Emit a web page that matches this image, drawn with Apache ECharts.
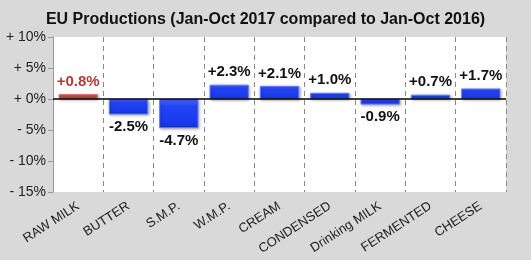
<!DOCTYPE html>
<html>
<head>
<meta charset="utf-8">
<script src="https://cdn.jsdelivr.net/npm/echarts@6/dist/echarts.min.js"></script>
<style>
  html, body { margin: 0; padding: 0; background: #d9d9d9; }
  #chart { width: 531px; height: 260px; }
</style>
</head>
<body>
<div id="chart"></div>
<script>
const categories = ['RAW MILK', 'BUTTER', 'S.M.P.', 'W.M.P.', 'CREAM', 'CONDENSED', 'Drinking MILK', 'FERMENTED', 'CHEESE'];
const changes = [0.8, -2.5, -4.7, 2.3, 2.1, 1.0, -0.9, 0.7, 1.7];
const yTicks = { min: -15, max: 10, step: 5 };

const chart = echarts.init(document.getElementById('chart'));

// blue bevel look, first bar (raw milk) in red
const blueFill = new echarts.graphic.LinearGradient(0, 0, 0, 1, [
  { offset: 0, color: '#4d6cff' },
  { offset: 0.25, color: '#2244f5' },
  { offset: 0.85, color: '#1a38ea' },
  { offset: 1, color: '#1230c8' }
]);
const redFill = new echarts.graphic.LinearGradient(0, 0, 0, 1, [
  { offset: 0, color: '#d46a67' },
  { offset: 1, color: '#a93a37' }
]);

const barData = changes.map((v, i) => ({
  value: v,
  itemStyle: {
    color: i === 0 ? redFill : blueFill,
    borderColor: i === 0 ? '#d77a77' : '#5a78ff',
    borderWidth: 1
  },
  label: {
    position: v >= 0 ? 'top' : 'bottom',
    color: i === 0 ? '#b23a36' : '#111'
  }
}));

const option = {
  backgroundColor: '#d9d9d9',
  textStyle: { fontFamily: 'Liberation Sans, Arial, sans-serif' },
  title: {
    text: 'EU Productions (Jan-Oct 2017 compared to Jan-Oct 2016)',
    left: 'center',
    top: 7,
    textStyle: { fontSize: 16, fontWeight: 'bold', color: '#111' }
  },
  grid: {
    left: 53, right: 25, top: 37, bottom: 68,
    show: true, backgroundColor: '#fff', borderWidth: 0
  },
  xAxis: {
    type: 'category',
    data: categories,
    axisLine: { show: false },
    axisTick: { show: false },
    splitLine: {
      show: true,
      lineStyle: { color: '#888', type: [5, 4], width: 1 }
    },
    axisLabel: {
      rotate: 33,
      interval: 0,
      color: '#222',
      fontSize: 13,
      margin: 13
    }
  },
  yAxis: {
    type: 'value',
    min: yTicks.min,
    max: yTicks.max,
    interval: yTicks.step,
    axisLine: { show: true, lineStyle: { color: '#999' } },
    axisTick: { show: true, inside: false, length: 5, lineStyle: { color: '#999' } },
    splitLine: { show: false },
    axisLabel: {
      color: '#222',
      fontSize: 14,
      margin: 7,
      formatter: v => (v < 0 ? '- ' + Math.abs(v) : '+ ' + v) + '%'
    }
  },
  series: [
    {
      type: 'bar',
      data: barData,
      barCategoryGap: '22%',
      itemStyle: {
        shadowColor: 'rgba(0,0,0,0.35)',
        shadowBlur: 3,
        shadowOffsetX: 1,
        shadowOffsetY: 1
      },
      label: {
        show: true,
        fontSize: 15,
        fontWeight: 'bold',
        distance: 5,
        formatter: p => (p.value > 0 ? '+' : '') + p.value.toFixed(1) + '%'
      },
      markLine: {
        silent: true,
        symbol: 'none',
        label: { show: false },
        lineStyle: { color: '#000', type: 'solid', width: 1.5 },
        data: [{ yAxis: 0 }]
      },
      z: 3
    }
  ]
};

chart.setOption(option);
</script>
</body>
</html>
